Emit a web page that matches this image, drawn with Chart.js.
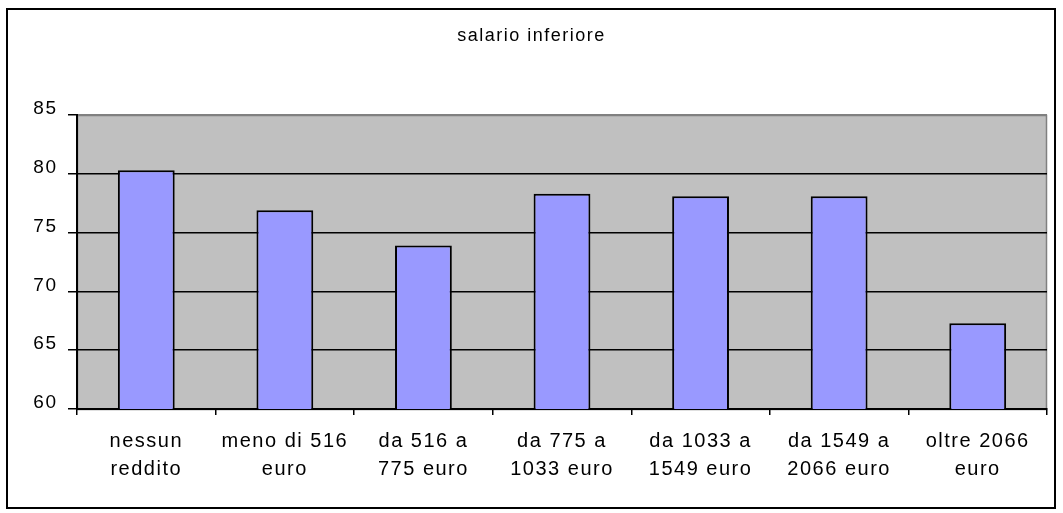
<!DOCTYPE html>
<html>
<head>
<meta charset="utf-8">
<script src="https://cdn.jsdelivr.net/npm/chart.js@4/dist/chart.umd.min.js"></script>
<style>
  html, body { margin: 0; padding: 0; background: #ffffff; }
  #wrap { width: 1063px; height: 513px; position: relative; }
</style>
</head>
<body>
<div id="wrap"><canvas id="c" width="1063" height="513"></canvas></div>
<script>
// Income brackets (two-line labels) and the share for each bracket
const categories = [
  ['nessun', 'reddito'],
  ['meno di 516', 'euro'],
  ['da 516 a', '775 euro'],
  ['da 775 a', '1033 euro'],
  ['da 1033 a', '1549 euro'],
  ['da 1549 a', '2066 euro'],
  ['oltre 2066', 'euro']
];
const values = [80.3, 76.9, 73.9, 78.3, 78.1, 78.1, 67.3];
const yMin = 60;
const yMax = 85;
const yStep = 5;
const chartTitle = 'salario inferiore';

const FONT = "'Liberation Sans', Arial, sans-serif";
const SPACING = '1.5px';

// Grey plot panel, outer frame and wide letter spacing for all text
const frame = {
  id: 'frame',
  beforeDraw(chart) {
    const ctx = chart.ctx;
    const a = chart.chartArea;
    ctx.save();
    ctx.fillStyle = '#c0c0c0';
    ctx.fillRect(a.left, a.top, a.right - a.left, a.bottom - a.top);
    ctx.strokeStyle = '#808080';
    ctx.lineWidth = 1.5;
    ctx.strokeRect(Math.round(a.left) + 0.5, Math.round(a.top) + 0.5,
                   Math.round(a.right - a.left) - 1, Math.round(a.bottom - a.top));
    ctx.strokeStyle = '#000000';
    ctx.lineWidth = 2;
    ctx.strokeRect(7, 9, 1048, 499);
    ctx.restore();
    ctx.letterSpacing = SPACING;
  }
};

new Chart(document.getElementById('c'), {
  type: 'bar',
  data: {
    labels: categories,
    datasets: [{
      data: values,
      backgroundColor: '#9999ff',
      borderColor: '#000000',
      borderWidth: 2,
      categoryPercentage: 1,
      barPercentage: 0.41
    }]
  },
  options: {
    responsive: false,
    animation: false,
    devicePixelRatio: 1,
    layout: { padding: { top: 0, left: 16, right: 16, bottom: 0 } },
    plugins: {
      legend: { display: false },
      tooltip: { enabled: false },
      title: {
        display: true,
        text: chartTitle,
        color: '#000000',
        font: { family: FONT, size: 18, weight: 'normal', lineHeight: 1.2 },
        padding: { top: 25.2, bottom: 68.2 }
      }
    },
    scales: {
      x: {
        offset: true,
        grid: {
          display: true,
          offset: true,
          drawOnChartArea: false,
          drawTicks: true,
          tickLength: 6,
          color: '#000000',
          tickColor: '#000000',
          lineWidth: 1.5
        },
        border: { display: true, color: '#000000', width: 2 },
        ticks: {
          color: '#000000',
          font: { family: FONT, size: 20, lineHeight: 1.4 },
          padding: 12.5,
          maxRotation: 0,
          autoSkip: false
        },
        afterFit(scale) { scale.height = 104; }
      },
      y: {
        min: yMin,
        max: yMax,
        grid: {
          color: (c) => (c.tick && c.tick.value === yMax) ? '#808080' : '#000000',
          tickColor: '#000000',
          drawTicks: true,
          tickLength: 9,
          lineWidth: 1.5
        },
        border: { display: true, color: '#000000', width: 2 },
        ticks: {
          stepSize: yStep,
          color: '#000000',
          font: { family: FONT, size: 19 },
          padding: 10.5,
          labelOffset: -6
        },
        afterFit(scale) { scale.width = 61; }
      }
    }
  },
  plugins: [frame]
});
</script>
</body>
</html>
